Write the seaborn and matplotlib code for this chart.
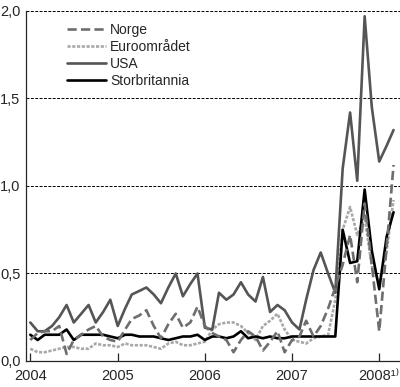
import numpy as np
import pandas as pd
import matplotlib
matplotlib.use('Agg')
import matplotlib.pyplot as plt
import seaborn as sns

# monthly observations, Jan 2004 - Mar 2008
months = pd.date_range('2004-01-01', periods=51, freq='MS')

norge = [0.12, 0.16, 0.17, 0.17, 0.20, 0.04, 0.12, 0.15, 0.18, 0.20, 0.14, 0.12,
         0.11, 0.18, 0.24, 0.26, 0.29, 0.20, 0.13, 0.21, 0.27, 0.19, 0.22, 0.31,
         0.20, 0.16, 0.14, 0.12, 0.05, 0.12, 0.17, 0.14, 0.06, 0.11, 0.17, 0.05,
         0.12, 0.14, 0.23, 0.14, 0.20, 0.30, 0.42, 0.55, 0.72, 0.45, 0.90, 0.55,
         0.17, 0.65, 1.12]
euro = [0.07, 0.05, 0.05, 0.06, 0.07, 0.08, 0.08, 0.07, 0.07, 0.10, 0.09, 0.09,
        0.08, 0.10, 0.09, 0.09, 0.09, 0.08, 0.07, 0.10, 0.11, 0.09, 0.09, 0.10,
        0.11, 0.18, 0.21, 0.22, 0.22, 0.20, 0.16, 0.12, 0.20, 0.23, 0.27, 0.18,
        0.12, 0.11, 0.10, 0.13, 0.14, 0.15, 0.35, 0.75, 0.88, 0.72, 0.82, 0.54,
        0.45, 0.63, 0.92]
usa = [0.22, 0.17, 0.17, 0.20, 0.25, 0.32, 0.22, 0.27, 0.32, 0.22, 0.28, 0.35,
       0.20, 0.30, 0.38, 0.40, 0.42, 0.38, 0.33, 0.42, 0.50, 0.37, 0.44, 0.50,
       0.19, 0.18, 0.39, 0.35, 0.38, 0.45, 0.38, 0.34, 0.48, 0.28, 0.32, 0.29,
       0.22, 0.18, 0.35, 0.52, 0.62, 0.50, 0.39, 1.10, 1.42, 1.03, 1.97, 1.45,
       1.14, 1.23, 1.32]
uk = [0.15, 0.12, 0.15, 0.15, 0.15, 0.18, 0.12, 0.15, 0.15, 0.15, 0.15, 0.14,
      0.13, 0.15, 0.15, 0.14, 0.14, 0.14, 0.13, 0.12, 0.13, 0.14, 0.14, 0.15,
      0.12, 0.14, 0.14, 0.13, 0.14, 0.17, 0.13, 0.14, 0.13, 0.14, 0.13, 0.13,
      0.14, 0.14, 0.14, 0.14, 0.14, 0.14, 0.14, 0.75, 0.56, 0.57, 0.98, 0.63,
      0.41, 0.71, 0.85]

year_ticks = ['2004', '2005', '2006', '2007', '2008¹⁾']
y_ticks = [0.0, 0.5, 1.0, 1.5, 2.0]
y_labels = ['0,0', '0,5', '1,0', '1,5', '2,0']

df = pd.DataFrame({'dato': months, 'Norge': norge, 'Euroområdet': euro,
                   'USA': usa, 'Storbritannia': uk})

sns.set_style('ticks')
plt.rcParams['font.family'] = ['Liberation Sans', 'DejaVu Sans']

fig = plt.figure(figsize=(4.0, 3.87), dpi=100)
ax = fig.add_axes([0.065, 0.0672, 0.935, 0.9044])

lw = 1.9
for y in y_ticks[1:]:
    ax.axhline(y, color='black', lw=0.7, ls=(0, (3, 1.5)), zorder=1)

sns.lineplot(data=df, x='dato', y='Norge', ax=ax, color='#6e6e6e', lw=lw,
             linestyle=(0, (3.5, 1.6)), label='Norge', zorder=3)
sns.lineplot(data=df, x='dato', y='Euroområdet', ax=ax, color='#a8a8a8', lw=lw,
             linestyle=(0, (1.2, 0.6)), label='Euroområdet', zorder=2)
sns.lineplot(data=df, x='dato', y='USA', ax=ax, color='#555555', lw=lw,
             label='USA', zorder=2)
sns.lineplot(data=df, x='dato', y='Storbritannia', ax=ax, color='black', lw=lw,
             label='Storbritannia', zorder=2)

ax.set_ylim(0, 2.0)
ax.set_xlim(pd.Timestamp('2003-12-14'), pd.Timestamp('2008-03-28'))
ax.set_yticks(y_ticks)
ax.set_yticklabels(y_labels)
tick_pos = [pd.Timestamp(f'{y}-01-01') for y in range(2004, 2009)]
ax.set_xticks(tick_pos)
ax.set_xticklabels(year_ticks)
ax.set_xlabel('')
ax.set_ylabel('')
ax.tick_params(axis='x', direction='in', length=6, width=0.9, pad=6, labelsize=10.5)
ax.tick_params(axis='y', length=0, pad=4, labelsize=10.5)
for s in ['top', 'right']:
    ax.spines[s].set_visible(False)
for s in ['left', 'bottom']:
    ax.spines[s].set_linewidth(0.9)

ax.legend(loc='upper left', bbox_to_anchor=(0.11, 0.965), frameon=False,
          borderaxespad=0, borderpad=0, handlelength=2.8, handletextpad=0.3,
          labelspacing=0.2, fontsize=10)

fig.savefig('out.png', dpi=100)
